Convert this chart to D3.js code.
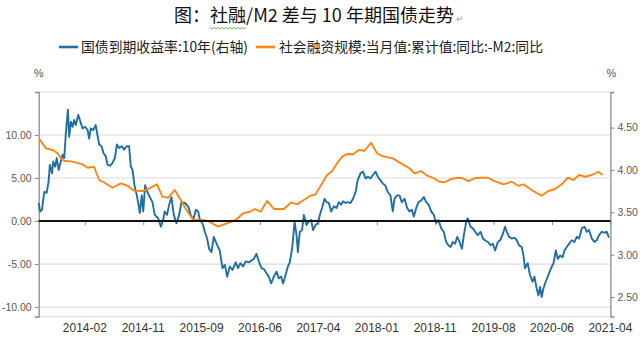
<!DOCTYPE html>
<html><head><meta charset="utf-8">
<script src="https://cdn.jsdelivr.net/npm/d3@7"></script>
<style>body{margin:0;background:#fff}svg{display:block}</style>
</head><body>
<svg id="c" width="640" height="343"></svg>
<script>
const titleText = "图：社融/M2 差与 10 年期国债走势";
const seriesNames = ["国债到期收益率:10年(右轴)", "社会融资规模:当月值:累计值:同比:-M2:同比"];
const startDate = "2013-07-01";
const tickDates = ["2014-02-01","2014-11-01","2015-09-01","2016-06-01","2017-04-01","2018-01-01","2018-11-01","2019-08-01","2020-06-01","2021-04-01"];
const tickLabels = ["2014-02","2014-11","2015-09","2016-06","2017-04","2018-01","2018-11","2019-08","2020-06","2021-04"];
const leftTicks = [-10, -5, 0, 5, 10];
const rightTicks = [2.5, 3.0, 3.5, 4.0, 4.5];
const leftDomain = [-11.1, 15];
const rightDomain = [2.27, 4.92];

const bondDates = ["2013-07-01","2013-07-07","2013-07-16","2013-07-27","2013-08-07","2013-08-16","2013-08-22","2013-09-01","2013-09-07","2013-09-16","2013-09-23","2013-10-02","2013-10-12","2013-10-20","2013-10-28","2013-11-05","2013-11-14","2013-11-20","2013-11-28","2013-12-06","2013-12-13","2013-12-21","2014-01-01","2014-01-09","2014-01-21",
"2014-02-02","2014-02-14","2014-02-21","2014-03-01","2014-03-12","2014-03-24","2014-04-01","2014-04-09","2014-04-20","2014-04-29","2014-05-10","2014-05-18","2014-05-29","2014-06-10","2014-06-21","2014-07-01","2014-07-11","2014-07-24","2014-08-04","2014-08-15","2014-08-27","2014-09-04","2014-09-12","2014-09-21","2014-10-02","2014-10-10","2014-10-16","2014-10-25",
"2014-11-01","2014-11-11","2014-11-23","2014-12-05","2014-12-19","2014-12-31","2015-01-18","2015-02-01","2015-02-13","2015-02-21","2015-03-05","2015-03-16","2015-03-28","2015-04-09","2015-04-23","2015-05-07","2015-05-19","2015-06-06","2015-06-23","2015-07-06","2015-07-19","2015-08-02","2015-08-14","2015-08-23",
"2015-09-05","2015-09-16","2015-09-27","2015-10-06","2015-10-17","2015-10-28","2015-11-10","2015-11-25","2015-12-08","2015-12-19","2015-12-30","2016-01-11","2016-01-24","2016-02-08","2016-02-19","2016-03-01","2016-03-13","2016-03-26","2016-04-11","2016-04-22","2016-05-03","2016-05-15","2016-05-28",
"2016-06-09","2016-06-21","2016-07-05","2016-07-17","2016-07-29","2016-08-12","2016-08-26","2016-09-07","2016-09-19","2016-09-29","2016-10-12","2016-10-24","2016-11-03","2016-11-15","2016-11-28","2016-12-08","2016-12-15","2016-12-25","2017-01-06","2017-01-15","2017-01-29","2017-02-10","2017-02-22","2017-03-04","2017-03-17","2017-03-29",
"2017-04-08","2017-04-18","2017-04-30","2017-05-09","2017-05-20","2017-05-31","2017-06-13","2017-06-25","2017-07-06","2017-07-17","2017-07-26","2017-08-07","2017-08-17","2017-08-30","2017-09-11","2017-09-23","2017-10-03","2017-10-16","2017-10-28","2017-11-09","2017-11-20","2017-12-02","2017-12-14","2017-12-26",
"2018-01-06","2018-01-20","2018-02-01","2018-02-13","2018-02-27","2018-03-13","2018-03-25","2018-04-03","2018-04-17","2018-04-29","2018-05-11","2018-05-25","2018-06-08","2018-06-20","2018-07-02","2018-07-13","2018-07-25","2018-08-06","2018-08-20","2018-09-03","2018-09-15","2018-09-28","2018-10-11","2018-10-25",
"2018-11-05","2018-11-16","2018-11-29","2018-12-11","2018-12-22","2019-01-02","2019-01-12","2019-01-22","2019-02-02","2019-02-12","2019-02-23","2019-03-06","2019-03-15","2019-03-26","2019-04-02","2019-04-15","2019-04-26","2019-05-07","2019-05-19","2019-06-01","2019-06-12","2019-06-22","2019-07-05","2019-07-18","2019-07-28",
"2019-08-09","2019-08-23","2019-09-04","2019-09-16","2019-09-30","2019-10-09","2019-10-21","2019-11-04","2019-11-18","2019-11-30","2019-12-12","2019-12-26","2020-01-04","2020-01-12","2020-01-26","2020-02-07","2020-02-20","2020-03-01","2020-03-13","2020-03-22","2020-03-31","2020-04-08","2020-04-17","2020-04-29","2020-05-13","2020-05-27",
"2020-06-09","2020-06-21","2020-07-01","2020-07-13","2020-07-26","2020-08-05","2020-08-17","2020-08-29","2020-09-12","2020-09-26","2020-10-08","2020-10-20","2020-11-03","2020-11-17","2020-11-29","2020-12-11","2020-12-25","2021-01-08","2021-01-20","2021-02-01","2021-02-15","2021-03-01","2021-03-13","2021-03-25"];
const bondValues = [3.61,3.51,3.53,3.74,3.73,3.86,4.06,3.96,4.10,4.04,4.14,4.00,4.10,4.18,4.14,4.45,4.71,4.39,4.57,4.51,4.59,4.53,4.65,4.59,4.49,
4.51,4.47,4.37,4.49,4.47,4.53,4.41,4.30,4.28,4.20,4.16,4.06,4.05,4.08,4.14,4.30,4.26,4.28,4.24,4.28,4.28,4.04,4.00,3.82,3.70,3.59,3.49,3.70,
3.51,3.82,3.74,3.68,3.62,3.47,3.43,3.33,3.41,3.51,3.47,3.59,3.68,3.47,3.37,3.47,3.62,3.61,3.57,3.47,3.41,3.53,3.51,3.41,
3.37,3.27,3.19,3.07,3.03,3.21,3.13,3.05,2.84,2.88,2.74,2.86,2.82,2.91,2.84,2.90,2.86,2.92,2.91,2.93,2.95,3.01,2.91,
2.84,2.83,2.78,2.74,2.66,2.74,2.80,2.72,2.74,2.66,2.76,2.86,2.91,3.07,3.39,3.23,3.03,3.27,3.29,3.47,3.35,3.39,3.41,3.29,3.35,3.37,
3.47,3.55,3.66,3.62,3.61,3.51,3.57,3.55,3.62,3.59,3.63,3.61,3.62,3.61,3.66,3.74,3.88,3.96,3.98,3.90,3.92,3.90,3.94,3.98,
3.92,3.88,3.84,3.82,3.74,3.70,3.51,3.66,3.70,3.70,3.62,3.66,3.55,3.51,3.53,3.45,3.55,3.62,3.64,3.68,3.62,3.59,3.51,3.47,
3.37,3.41,3.31,3.27,3.15,3.11,3.09,3.15,3.13,3.21,3.15,3.07,3.23,3.39,3.43,3.33,3.31,3.27,3.23,3.27,3.19,3.17,3.15,3.11,3.13,
3.05,3.15,3.17,3.23,3.33,3.27,3.21,3.19,3.20,3.17,3.11,3.09,2.99,2.84,2.90,2.76,2.68,2.74,2.60,2.52,2.62,2.50,2.60,2.68,2.76,2.84,
2.90,3.05,2.95,2.99,2.97,3.05,3.09,3.13,3.17,3.15,3.21,3.19,3.31,3.33,3.27,3.29,3.19,3.15,3.17,3.23,3.27,3.26,3.27,3.20];

const spreadDates = ["2013-07-04","2013-08-04","2013-09-04","2013-09-27","2013-10-12","2013-10-28","2013-12-06","2014-01-21","2014-02-14","2014-03-16","2014-04-09","2014-05-02","2014-06-10","2014-07-19","2014-08-20","2014-09-19","2014-10-29","2014-12-02","2015-01-12","2015-02-09","2015-03-11","2015-04-14","2015-05-19","2015-06-14","2015-07-19","2015-08-31","2015-10-01","2015-11-17","2015-12-27","2016-02-08","2016-03-14","2016-04-14","2016-05-08","2016-06-04","2016-07-08","2016-08-12","2016-10-03","2016-11-10","2016-12-11","2017-01-15","2017-02-19","2017-03-17","2017-04-14","2017-05-12","2017-06-05","2017-06-28","2017-07-22","2017-08-14","2017-09-11","2017-10-08","2017-11-04","2017-12-05","2018-01-02","2018-01-29","2018-03-25","2018-05-16","2018-06-20","2018-07-16","2018-08-20","2018-09-15","2018-10-20","2018-11-21","2018-12-14","2019-01-14","2019-02-15","2019-03-10","2019-04-06","2019-05-04","2019-06-04","2019-07-05","2019-08-06","2019-09-22","2019-11-04","2019-12-09","2020-01-04","2020-02-16","2020-04-08","2020-05-13","2020-06-17","2020-07-22","2020-08-22","2020-09-21","2020-10-20","2020-11-20","2020-12-25","2021-01-29","2021-02-19"];
const spreadValues = [9.53,8.45,8.26,7.87,7.29,7.01,6.90,6.59,6.20,6.31,4.77,4.50,3.87,4.38,4.10,3.52,3.49,3.80,4.27,2.83,2.71,3.60,2.33,1.28,0.12,0.12,0.00,-0.66,-0.27,0.12,0.90,1.08,1.40,1.08,2.33,1.40,1.40,2.17,1.94,2.44,2.94,3.10,4.19,5.35,5.81,6.71,7.48,7.79,7.76,8.26,8.17,9.10,7.87,7.56,7.29,6.59,6.13,5.55,5.81,5.35,5.03,4.57,4.50,4.88,5.03,4.97,4.65,4.97,5.03,5.03,4.65,4.27,4.57,4.10,4.27,3.60,2.94,3.49,3.72,4.27,5.03,4.77,5.35,5.15,5.35,5.73,5.35];

const colors = {bond: "#1f6fa3", spread: "#ff8514"};

const parse = d3.timeParse("%Y-%m-%d");
const svg = d3.select("#c");
const L = 38.7, R = 610.4, T = 92, B = 316.5;
const lead = 0.79; // first tick offset in tick steps
const step = (R - L) / (tickDates.length - 1 + lead);
const xDom = [parse(startDate), ...tickDates.map(parse)];
const xRng = xDom.map((d, i) => i === 0 ? L : L + (lead + i - 1) * step);
const x = d3.scaleTime().domain(xDom).range(xRng);
const yL = d3.scaleLinear().domain(leftDomain).range([B, T]);
const yR = d3.scaleLinear().domain(rightDomain).range([B, T]);

const cjk = "'Noto Sans CJK SC', 'Noto Sans', sans-serif";
const lat = "'Liberation Sans', Arial, sans-serif";

// title
svg.append("text").attr("x", 174).attr("y", 22).attr("font-family", cjk).attr("font-size", 18)
  .attr("fill", "#111").attr("textLength", 280).attr("lengthAdjust", "spacingAndGlyphs").text(titleText);
svg.append("text").attr("x", 456).attr("y", 22).attr("font-family", lat).attr("font-size", 9).attr("fill", "#999").text("↵");
// spell-check wavy underline under 社融
const wave = d3.range(0, 19).map(i => [210 + i * 2, 28 + (i % 2 ? 1 : -0.5)]);
svg.append("path").attr("d", d3.line()(wave)).attr("fill", "none").attr("stroke", "#5fae3c").attr("stroke-width", 0.9);

// legend
const lg = [
  {name: seriesNames[0], color: colors.bond, x0: 59, tx: 81, tw: 167},
  {name: seriesNames[1], color: colors.spread, x0: 256, tx: 279, tw: 264}
];
lg.forEach(d => {
  svg.append("line").attr("x1", d.x0).attr("x2", d.x0 + 19).attr("y1", 47).attr("y2", 47)
    .attr("stroke", d.color).attr("stroke-width", 2.6);
  svg.append("text").attr("x", d.tx).attr("y", 52).attr("font-family", cjk).attr("font-size", 14)
    .attr("fill", "#222").attr("textLength", d.tw).attr("lengthAdjust", "spacingAndGlyphs").text(d.name);
});

// units
svg.append("text").attr("x", L).attr("y", 77).attr("text-anchor", "middle").attr("font-family", lat)
  .attr("font-size", 11).attr("fill", "#555").text("%");
svg.append("text").attr("x", R + 1).attr("y", 77).attr("text-anchor", "middle").attr("font-family", lat)
  .attr("font-size", 11).attr("fill", "#555").text("%");

// gridlines
const gridVals = leftTicks.filter(v => v !== 0).concat([leftDomain[1]]);
svg.append("g").selectAll("line").data(gridVals).join("line")
  .attr("x1", L).attr("x2", R).attr("y1", d => yL(d)).attr("y2", d => yL(d))
  .attr("stroke", "#dcdcdc").attr("stroke-width", 1.2);
svg.append("line").attr("x1", L).attr("x2", R).attr("y1", B).attr("y2", B).attr("stroke", "#dcdcdc").attr("stroke-width", 1.2);

// left axis
const fmt = v => v.toFixed(2);
const gl = svg.append("g").attr("transform", `translate(${L},0)`)
  .call(d3.axisLeft(yL).tickValues(leftTicks).tickFormat(fmt).tickSize(4).tickPadding(3));
gl.select(".domain").attr("stroke", "#8c8c8c").attr("stroke-width", 1.3);
gl.selectAll(".tick line").attr("stroke", "#8c8c8c");
gl.selectAll("text").attr("font-family", lat).attr("font-size", 10.5).attr("fill", "#595959");

const gr = svg.append("g").attr("transform", `translate(${R},0)`)
  .call(d3.axisRight(yR).tickValues(rightTicks).tickFormat(fmt).tickSize(4).tickPadding(3));
gr.select(".domain").attr("stroke", "#8c8c8c").attr("stroke-width", 1.3);
gr.selectAll(".tick line").attr("stroke", "#8c8c8c");
gr.selectAll("text").attr("font-family", lat).attr("font-size", 10.5).attr("fill", "#595959");

// series
const bond = bondDates.map((d, i) => ({d: parse(d), v: bondValues[i]}));
const spread = spreadDates.map((d, i) => ({d: parse(d), v: spreadValues[i]}));
svg.append("path").datum(bond).attr("fill", "none").attr("stroke", colors.bond).attr("stroke-width", 1.9)
  .attr("stroke-linejoin", "round").attr("d", d3.line().x(d => x(d.d)).y(d => yR(d.v)));
svg.append("path").datum(spread).attr("fill", "none").attr("stroke", colors.spread).attr("stroke-width", 1.9)
  .attr("stroke-linejoin", "round").attr("d", d3.line().x(d => x(d.d)).y(d => yL(d.v)));

// x axis at zero
const gx = svg.append("g").attr("transform", `translate(0,${yL(0)})`)
  .call(d3.axisBottom(x).tickValues(tickDates.map(parse)).tickFormat("").tickSize(4));
gx.select(".domain").remove();
gx.selectAll(".tick line").attr("stroke", "#8c8c8c");
svg.append("line").attr("x1", L).attr("x2", R).attr("y1", yL(0)).attr("y2", yL(0))
  .attr("stroke", "#111").attr("stroke-width", 2);

// x labels at bottom
svg.append("g").selectAll("text").data(tickDates).join("text")
  .attr("x", d => x(parse(d))).attr("y", 332).attr("text-anchor", "middle")
  .attr("font-family", lat).attr("font-size", 12).attr("fill", "#333")
  .text((d, i) => tickLabels[i]);
</script>
</body></html>
